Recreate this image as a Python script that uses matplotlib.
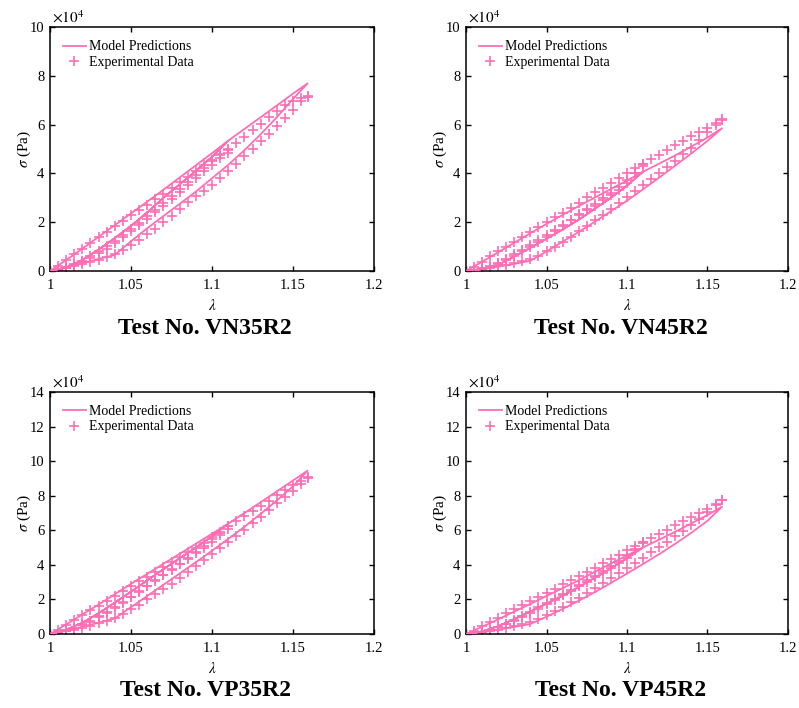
import numpy as np
import matplotlib
matplotlib.use("Agg")
import matplotlib.pyplot as plt

plt.rcParams['font.family'] = ['Liberation Serif', 'DejaVu Serif']
plt.rcParams['mathtext.fontset'] = 'stix'

PINK = '#FF6EB4'

# ---------------- data (stress in units of 1e4 Pa) ----------------
titles = ['Test No. VN35R2', 'Test No. VN45R2', 'Test No. VP35R2', 'Test No. VP45R2']
y_max = [10, 10, 14, 14]

# stretch grids
lam_exp1 = [1.000, 1.005, 1.010, 1.015, 1.020, 1.025, 1.030, 1.035, 1.040, 1.045, 1.050, 1.055,
            1.060, 1.065, 1.070, 1.075, 1.080, 1.085, 1.090, 1.095, 1.100, 1.105, 1.110]
lam_exp2 = [1.000, 1.005, 1.010, 1.015, 1.020, 1.025, 1.030, 1.035, 1.040, 1.045, 1.050, 1.055,
            1.060, 1.065, 1.070, 1.075, 1.080, 1.085, 1.090, 1.095, 1.100, 1.105, 1.110,
            1.115, 1.120, 1.125, 1.130, 1.135, 1.140, 1.145, 1.150, 1.155, 1.159]
lam_mod1 = [1.00, 1.01, 1.02, 1.03, 1.04, 1.05, 1.06, 1.07, 1.08, 1.09, 1.10, 1.11]
lam_mod_ext = [1.11, 1.12, 1.13, 1.14, 1.15, 1.159]
lam_mod2 = [1.00, 1.01, 1.02, 1.03, 1.04, 1.05, 1.06, 1.07, 1.08, 1.09, 1.10, 1.11,
            1.12, 1.13, 1.14, 1.15, 1.159]

# ---- VN35R2 ----
vn35_mod_load1 = [0, 0.45, 0.92, 1.40, 1.88, 2.36, 2.84, 3.33, 3.83, 4.33, 4.83, 5.34]
vn35_mod_ext = [5.34, 5.82, 6.30, 6.78, 7.27, 7.69]
vn35_mod_unload1 = [0, 0.15, 0.45, 0.88, 1.35, 1.85, 2.40, 3.00, 3.55, 4.10, 4.68, 5.34]
vn35_mod_unload2 = [0, 0.15, 0.32, 0.49, 0.66, 1.22, 1.75, 2.25, 2.75, 3.25, 3.80, 4.35,
                    4.95, 5.60, 6.30, 7.05, 7.69]
vn35_exp_load1 = [0.0, 0.2, 0.45, 0.68, 0.92, 1.15, 1.38, 1.6, 1.83, 2.06, 2.28, 2.5, 2.72,
                  2.95, 3.17, 3.4, 3.63, 3.86, 4.1, 4.33, 4.56, 4.78, 5.0]
vn35_exp_unload1 = [0.0, 0.04, 0.12, 0.24, 0.38, 0.54, 0.72, 0.92, 1.14, 1.38, 1.62, 1.88,
                    2.14, 2.4, 2.68, 2.96, 3.24, 3.52, 3.8, 4.08, 4.35, 4.62, 4.85]
vn35_exp_load2 = [0, 0.06, 0.15, 0.28, 0.43, 0.6, 0.8, 1.01, 1.23, 1.47, 1.72, 1.98, 2.25,
                  2.52, 2.8, 3.08, 3.36, 3.65, 3.94, 4.22, 4.5, 4.75, 4.97, 5.23, 5.5, 5.77,
                  6.04, 6.3, 6.56, 6.8, 6.98, 7.1, 7.19]
vn35_exp_unload2 = [0.0, 0.05, 0.13, 0.22, 0.3, 0.38, 0.47, 0.57, 0.71, 0.86, 1.06, 1.28,
                    1.5, 1.73, 2.0, 2.26, 2.54, 2.82, 3.06, 3.29, 3.54, 3.8, 4.1, 4.4, 4.7,
                    5.0, 5.32, 5.63, 5.95, 6.27, 6.6, 6.95, 7.15]

# ---- VN45R2 ----
vn45_mod_load1 = [0, 0.38, 0.77, 1.16, 1.55, 1.93, 2.30, 2.66, 3.01, 3.36, 3.71, 4.07]
vn45_mod_ext = [4.07, 4.40, 4.74, 5.10, 5.47, 5.85]
vn45_mod_unload1 = [0, 0.08, 0.25, 0.60, 0.95, 1.32, 1.70, 2.10, 2.55, 3.00, 3.50, 4.07]
vn45_mod_unload2 = [0, 0.08, 0.18, 0.29, 0.42, 0.80, 1.20, 1.60, 2.02, 2.45, 2.88, 3.35,
                    3.83, 4.32, 4.82, 5.33, 5.85]
vn45_exp_load1 = [0, 0.17, 0.38, 0.6, 0.81, 1.0, 1.19, 1.39, 1.6, 1.8, 2.01, 2.2, 2.39,
                  2.59, 2.8, 3.02, 3.22, 3.42, 3.62, 3.82, 4.02, 4.22, 4.4]
vn45_exp_unload1 = [0.0, 0.03, 0.09, 0.18, 0.3, 0.45, 0.63, 0.82, 1.0, 1.2, 1.41, 1.62,
                    1.85, 2.07, 2.28, 2.48, 2.68, 2.9, 3.1, 3.32, 3.6, 4.0, 4.38]
vn45_exp_load2 = [0, 0.04, 0.11, 0.21, 0.34, 0.5, 0.68, 0.87, 1.06, 1.26, 1.46, 1.67, 1.88,
                  2.1, 2.32, 2.54, 2.76, 2.98, 3.2, 3.45, 3.72, 4.02, 4.32, 4.57, 4.76,
                  4.96, 5.15, 5.34, 5.52, 5.7, 5.88, 6.05, 6.22]
vn45_exp_unload2 = [0.0, 0.03, 0.08, 0.13, 0.19, 0.25, 0.32, 0.4, 0.5, 0.62, 0.8, 0.99,
                    1.19, 1.4, 1.63, 1.85, 2.08, 2.31, 2.54, 2.77, 3.02, 3.27, 3.52, 3.77,
                    4.02, 4.27, 4.52, 4.78, 5.06, 5.35, 5.68, 6.0, 6.2]

# ---- VP35R2 ----
vp35_mod_load1 = [0, 0.55, 1.13, 1.70, 2.30, 2.90, 3.48, 4.06, 4.64, 5.22, 5.80, 6.38]
vp35_mod_ext = [6.38, 7.00, 7.62, 8.25, 8.88, 9.45]
vp35_mod_unload1 = [0, 0.25, 0.65, 1.20, 1.82, 2.45, 3.10, 3.75, 4.38, 5.00, 5.65, 6.38]
vp35_mod_unload2 = [0, 0.20, 0.42, 0.65, 0.90, 1.55, 2.20, 2.85, 3.50, 4.15, 4.82, 5.50,
                    6.20, 6.95, 7.72, 8.55, 9.45]
vp35_exp_load1 = [0, 0.25, 0.52, 0.8, 1.08, 1.36, 1.64, 1.92, 2.2, 2.48, 2.76, 3.04, 3.32,
                  3.6, 3.88, 4.16, 4.44, 4.72, 5.0, 5.29, 5.6, 5.92, 6.25]
vp35_exp_unload1 = [0.0, 0.05, 0.16, 0.31, 0.5, 0.72, 0.97, 1.24, 1.52, 1.82, 2.12, 2.44,
                    2.76, 3.08, 3.4, 3.72, 4.04, 4.36, 4.68, 5.0, 5.35, 5.7, 6.1]
vp35_exp_load2 = [0, 0.08, 0.2, 0.36, 0.56, 0.78, 1.02, 1.28, 1.56, 1.85, 2.15, 2.46, 2.78,
                  3.1, 3.42, 3.74, 4.06, 4.4, 4.74, 5.1, 5.47, 5.85, 6.22, 6.52, 6.82,
                  7.12, 7.42, 7.72, 8.02, 8.32, 8.6, 8.85, 9.08]
vp35_exp_unload2 = [0.0, 0.06, 0.15, 0.25, 0.36, 0.48, 0.62, 0.78, 0.95, 1.16, 1.42, 1.7,
                    2.0, 2.32, 2.6, 2.92, 3.25, 3.6, 3.93, 4.27, 4.6, 4.95, 5.3, 5.66, 6.03,
                    6.4, 6.78, 7.16, 7.55, 7.93, 8.3, 8.68, 9.05]

# ---- VP45R2 ----
vp45_mod_load1 = [0, 0.42, 0.85, 1.30, 1.74, 2.20, 2.65, 3.10, 3.60, 4.08, 4.55, 5.01]
vp45_mod_ext = [5.01, 5.46, 5.92, 6.40, 6.88, 7.36]
vp45_mod_unload1 = [0, 0.15, 0.45, 0.86, 1.30, 1.75, 2.22, 2.72, 3.25, 3.80, 4.38, 5.01]
vp45_mod_unload2 = [0, 0.12, 0.26, 0.41, 0.58, 1.00, 1.45, 1.92, 2.42, 2.95, 3.50, 4.05,
                    4.62, 5.22, 5.86, 6.55, 7.36]
vp45_exp_load1 = [0, 0.2, 0.45, 0.7, 0.95, 1.19, 1.43, 1.67, 1.91, 2.15, 2.39, 2.63, 2.87,
                  3.11, 3.35, 3.59, 3.84, 4.09, 4.34, 4.59, 4.84, 5.08, 5.32]
vp45_exp_unload1 = [0.0, 0.04, 0.11, 0.23, 0.38, 0.56, 0.77, 0.99, 1.22, 1.46, 1.71, 1.97,
                    2.24, 2.5, 2.76, 3.02, 3.28, 3.55, 3.82, 4.1, 4.4, 4.85, 5.3]
vp45_exp_load2 = [0, 0.05, 0.13, 0.25, 0.41, 0.6, 0.82, 1.05, 1.29, 1.54, 1.79, 2.05, 2.31,
                  2.57, 2.84, 3.11, 3.38, 3.66, 3.94, 4.24, 4.56, 4.9, 5.26, 5.56, 5.8,
                  6.04, 6.28, 6.52, 6.76, 7.0, 7.24, 7.5, 7.78]
vp45_exp_unload2 = [0.0, 0.04, 0.1, 0.17, 0.25, 0.34, 0.44, 0.56, 0.7, 0.88, 1.1, 1.33,
                    1.57, 1.83, 2.1, 2.37, 2.65, 2.94, 3.23, 3.52, 3.82, 4.12, 4.42, 4.72,
                    5.02, 5.33, 5.65, 5.98, 6.33, 6.68, 7.05, 7.45, 7.75]

x_ticks = [1.0, 1.05, 1.1, 1.15, 1.2]
x_tick_labels = ['1', '1.05', '1.1', '1.15', '1.2']

panels = [
    (vn35_mod_load1, vn35_mod_ext, vn35_mod_unload1, vn35_mod_unload2,
     vn35_exp_load1, vn35_exp_unload1, vn35_exp_load2, vn35_exp_unload2),
    (vn45_mod_load1, vn45_mod_ext, vn45_mod_unload1, vn45_mod_unload2,
     vn45_exp_load1, vn45_exp_unload1, vn45_exp_load2, vn45_exp_unload2),
    (vp35_mod_load1, vp35_mod_ext, vp35_mod_unload1, vp35_mod_unload2,
     vp35_exp_load1, vp35_exp_unload1, vp35_exp_load2, vp35_exp_unload2),
    (vp45_mod_load1, vp45_mod_ext, vp45_mod_unload1, vp45_mod_unload2,
     vp45_exp_load1, vp45_exp_unload1, vp45_exp_load2, vp45_exp_unload2),
]

# ---------------- layout ----------------
W, H = 799, 708
fig = plt.figure(figsize=(W / 100, H / 100), dpi=100)
rects_px = [(50, 27, 324, 244), (466, 27, 322, 244), (50, 392, 324, 242), (466, 392, 322, 242)]
title_px = [(205, 329), (621, 329), (205, 691), (621, 691)]

for i, (rect, data) in enumerate(zip(rects_px, panels)):
    l, t, w, h = rect
    ax = fig.add_axes([l / W, (H - t - h) / H, w / W, h / H])
    m_l1, m_ext, m_u1, m_u2, e_l1, e_u1, e_l2, e_u2 = data

    # model path: load 1 -> unload 1 -> reload (along unload 1) -> extension -> unload 2
    mx = np.concatenate([lam_mod1, lam_mod1[::-1], lam_mod1, lam_mod_ext[1:], lam_mod2[::-1]])
    my = np.concatenate([m_l1, m_u1[::-1], m_u1, m_ext[1:], m_u2[::-1]])
    ax.plot(mx, my, color=PINK, lw=1.3, label='Model Predictions', zorder=3)

    ex = np.concatenate([lam_exp1, lam_exp1[::-1], lam_exp2, lam_exp2[::-1]])
    ey = np.concatenate([e_l1, e_u1[::-1], e_l2, e_u2[::-1]])
    ax.plot(ex, ey, ls='none', marker='+', ms=6.5, mew=1.2, color=PINK,
            label='Experimental Data', zorder=2)

    ax.set_xlim(1.0, 1.2)
    ax.set_ylim(0, y_max[i])
    ax.set_xticks(x_ticks)
    ax.set_xticklabels(x_tick_labels)
    ax.set_yticks(np.arange(0, y_max[i] + 1, 2))
    ax.tick_params(direction='in', top=True, right=True, length=3.5, width=1.0,
                   labelsize=10.5)
    ax.tick_params(axis='x', pad=6)
    ax.tick_params(axis='y', pad=4)
    for s in ax.spines.values():
        s.set_linewidth(1.1)

    ax.set_xlabel(r'$\lambda$', fontsize=11)
    ax.xaxis.set_label_coords(0.5, -0.112)
    ax.set_ylabel(r'$\sigma$ (Pa)', fontsize=11)
    ax.yaxis.set_label_coords(-0.052, 0.5)

    ax.text(0.005, 1.004, r'$\times10^{4}$', transform=ax.transAxes, fontsize=11,
            ha='left', va='bottom')

    ax.legend(loc='upper left', bbox_to_anchor=(0.04, 0.945), frameon=False,
              borderpad=0, fontsize=10, handlelength=1.65, handletextpad=0.2,
              labelspacing=0.15, numpoints=1, borderaxespad=0)

    tx, ty = title_px[i]
    fig.text(tx / W, (H - ty) / H, titles[i], fontsize=17, fontweight='bold',
             ha='center', va='center')

fig.savefig('out.png', dpi=100)
